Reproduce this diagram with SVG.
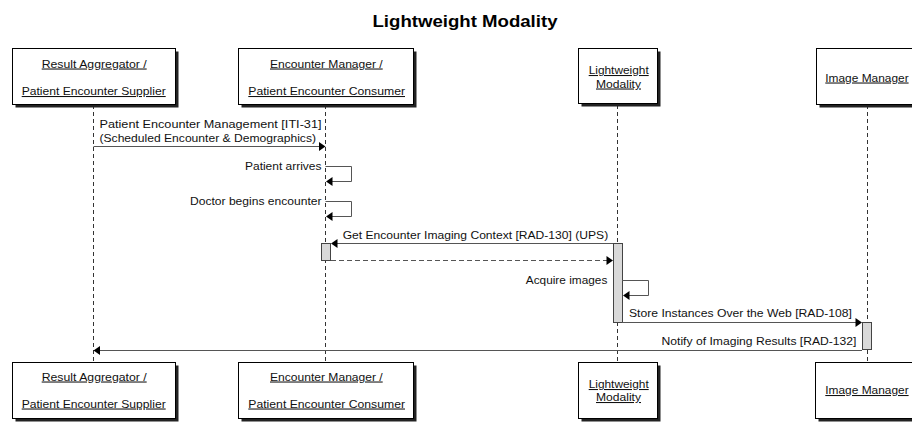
<svg xmlns="http://www.w3.org/2000/svg" width="912" height="422" viewBox="0 0 912 422">
  <defs>
    <style>
      text { font-family: "Liberation Sans", Arial, sans-serif; fill: #111; }
      .title { font-size: 16px; font-weight: bold; fill: #000; }
      .lbl { font-size: 10.5px; text-decoration: underline; }
      .msg { font-size: 10.5px; }
      .box { fill: #fff; stroke: #000; stroke-width: 1; }
      .shadow { fill: #222; }
      .life { stroke: #333; stroke-width: 1; stroke-dasharray: 4 3; fill: none; }
      .line { stroke: #555; stroke-width: 1; fill: none; }
      .dash { stroke: #555; stroke-width: 1; stroke-dasharray: 5 3; fill: none; }
      .head { fill: #000; }
      .act { fill: #d9d9d9; stroke: #444; stroke-width: 1; }
    </style>
  </defs>
  <rect width="912" height="422" fill="#fff"/>

  <text class="title" x="372.5" y="26.5" textLength="185" lengthAdjust="spacingAndGlyphs">Lightweight Modality</text>

  <!-- lifelines -->
  <g id="lifelines">
    <line class="life" x1="93.5" y1="105" x2="93.5" y2="362"/>
    <line class="life" x1="325.5" y1="105" x2="325.5" y2="362"/>
    <line class="life" x1="617.5" y1="105" x2="617.5" y2="362"/>
    <line class="life" x1="867.5" y1="105" x2="867.5" y2="362"/>
  </g>

  <!-- participant: Result Aggregator / Patient Encounter Supplier -->
  <g id="result-aggregator">
    <rect class="shadow" x="15.5" y="51.5" width="163" height="56"/>
    <rect class="box" x="12.5" y="48.5" width="163" height="56"/>
    <text class="lbl" x="41.7" y="67.5" textLength="105" lengthAdjust="spacingAndGlyphs">Result Aggregator /</text>
    <text class="lbl" x="21.7" y="95" textLength="144" lengthAdjust="spacingAndGlyphs">Patient Encounter Supplier</text>
    <rect class="shadow" x="15.5" y="365.5" width="163" height="56"/>
    <rect class="box" x="12.5" y="362.5" width="163" height="56"/>
    <text class="lbl" x="41.7" y="380.5" textLength="105" lengthAdjust="spacingAndGlyphs">Result Aggregator /</text>
    <text class="lbl" x="21.7" y="407.5" textLength="144" lengthAdjust="spacingAndGlyphs">Patient Encounter Supplier</text>
  </g>

  <!-- participant: Encounter Manager / Patient Encounter Consumer -->
  <g id="encounter-manager">
    <rect class="shadow" x="241.5" y="51.5" width="175" height="56"/>
    <rect class="box" x="238.5" y="48.5" width="175" height="56"/>
    <text class="lbl" x="270" y="67.5" textLength="112.7" lengthAdjust="spacingAndGlyphs">Encounter Manager /</text>
    <text class="lbl" x="248.3" y="95" textLength="156.7" lengthAdjust="spacingAndGlyphs">Patient Encounter Consumer</text>
    <rect class="shadow" x="241.5" y="365.5" width="175" height="56"/>
    <rect class="box" x="238.5" y="362.5" width="175" height="56"/>
    <text class="lbl" x="270" y="380.5" textLength="112.7" lengthAdjust="spacingAndGlyphs">Encounter Manager /</text>
    <text class="lbl" x="248.3" y="407.5" textLength="156.7" lengthAdjust="spacingAndGlyphs">Patient Encounter Consumer</text>
  </g>

  <!-- participant: Lightweight Modality -->
  <g id="lightweight-modality">
    <rect class="shadow" x="581.5" y="51.5" width="79" height="55"/>
    <rect class="box" x="578.5" y="48.5" width="79" height="55"/>
    <text class="lbl" x="588.7" y="74" textLength="60" lengthAdjust="spacingAndGlyphs">Lightweight</text>
    <text class="lbl" x="596" y="87.5" textLength="45" lengthAdjust="spacingAndGlyphs">Modality</text>
    <rect class="shadow" x="581.5" y="365.5" width="79" height="56"/>
    <rect class="box" x="578.5" y="362.5" width="79" height="56"/>
    <text class="lbl" x="588.7" y="388" textLength="60" lengthAdjust="spacingAndGlyphs">Lightweight</text>
    <text class="lbl" x="596" y="401" textLength="45" lengthAdjust="spacingAndGlyphs">Modality</text>
  </g>

  <!-- participant: Image Manager -->
  <g id="image-manager">
    <rect class="shadow" x="819.5" y="51.5" width="102" height="56"/>
    <rect class="box" x="816.5" y="48.5" width="102" height="56"/>
    <text class="lbl" x="825.3" y="81.5" textLength="83.3" lengthAdjust="spacingAndGlyphs">Image Manager</text>
    <rect class="shadow" x="818.5" y="365.5" width="102" height="56"/>
    <rect class="box" x="815.5" y="362.5" width="102" height="56"/>
    <text class="lbl" x="825.3" y="394" textLength="83.3" lengthAdjust="spacingAndGlyphs">Image Manager</text>
  </g>

  <!-- activation bars -->
  <g id="activations">
    <rect class="act" x="321.5" y="243.5" width="9" height="17"/>
    <rect class="act" x="613.5" y="243.5" width="9" height="79"/>
    <rect class="act" x="862.5" y="322.5" width="9" height="27"/>
  </g>

  <!-- messages -->
  <g id="connectors">
    <line class="line" x1="93.5" y1="146.5" x2="320" y2="146.5"/>
    <polygon class="head" points="325.5,146.5 319,142 319,151"/>
    <text class="msg" x="99.5" y="128" textLength="222" lengthAdjust="spacingAndGlyphs">Patient Encounter Management [ITI-31]</text>
    <text class="msg" x="99.5" y="141.5" textLength="216.5" lengthAdjust="spacingAndGlyphs">(Scheduled Encounter &amp; Demographics)</text>

    <path class="line" d="M325.5,166.5 H351.5 V181.5 H331"/>
    <polygon class="head" points="326,181.5 332.5,177 332.5,186"/>
    <text class="msg" x="245" y="170" textLength="76.5" lengthAdjust="spacingAndGlyphs">Patient arrives</text>

    <path class="line" d="M325.5,201.5 H351.5 V216.5 H331"/>
    <polygon class="head" points="326,216.5 332.5,212 332.5,221"/>
    <text class="msg" x="190" y="205" textLength="131.5" lengthAdjust="spacingAndGlyphs">Doctor begins encounter</text>

    <line class="line" x1="613" y1="243.5" x2="336" y2="243.5"/>
    <polygon class="head" points="331,243.5 337.5,239 337.5,248"/>
    <text class="msg" x="342.7" y="238.5" textLength="265.5" lengthAdjust="spacingAndGlyphs">Get Encounter Imaging Context [RAD-130] (UPS)</text>

    <line class="dash" x1="331" y1="260.5" x2="608" y2="260.5"/>
    <polygon class="head" points="613,260.5 606.5,256 606.5,265"/>

    <path class="line" d="M622,280.5 H648.5 V295.5 H628"/>
    <polygon class="head" points="623,295.5 629.5,291 629.5,300"/>
    <text class="msg" x="525.8" y="284" textLength="81.5" lengthAdjust="spacingAndGlyphs">Acquire images</text>

    <line class="line" x1="622" y1="322.5" x2="857" y2="322.5"/>
    <polygon class="head" points="862,322.5 855.5,318 855.5,327"/>
    <text class="msg" x="629" y="317" textLength="223" lengthAdjust="spacingAndGlyphs">Store Instances Over the Web [RAD-108]</text>

    <line class="line" x1="862" y1="350.5" x2="99" y2="350.5"/>
    <polygon class="head" points="93.5,350.5 100,346 100,355"/>
    <text class="msg" x="661.5" y="345" textLength="195" lengthAdjust="spacingAndGlyphs">Notify of Imaging Results [RAD-132]</text>
  </g>
</svg>
